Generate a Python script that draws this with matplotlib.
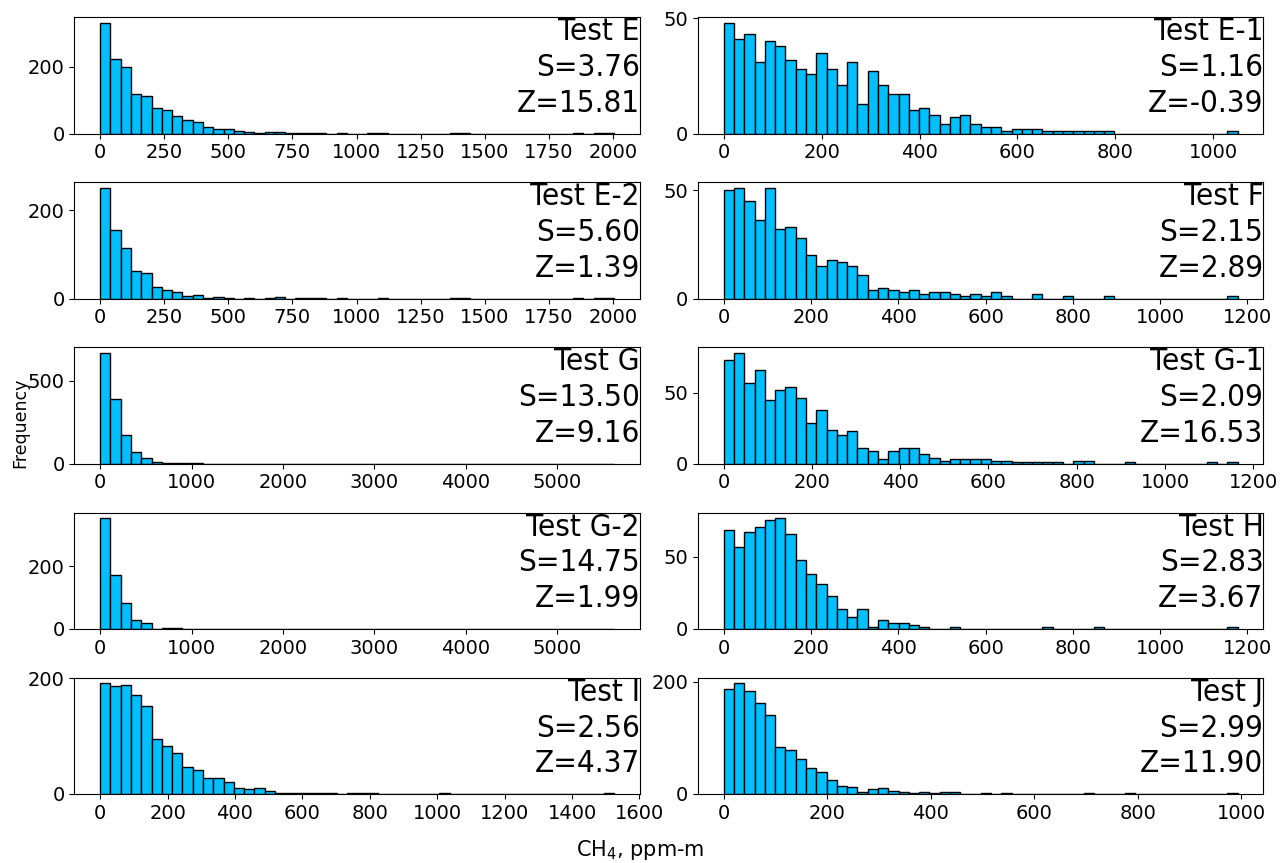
import os
import numpy as np
import matplotlib
matplotlib.use("Agg")
import matplotlib.pyplot as plt
from matplotlib import font_manager
from matplotlib.ticker import MultipleLocator

# panel order: left column top to bottom, right column top to bottom
names = ["Test E", "Test E-2", "Test G", "Test G-2", "Test I",
         "Test E-1", "Test F", "Test G-1", "Test H", "Test J"]
skew = [3.76, 5.60, 13.50, 14.75, 2.56, 1.16, 2.15, 2.09, 2.83, 2.99]
zval = [15.81, 1.39, 9.16, 1.99, 4.37, -0.39, 2.89, 16.53, 3.67, 11.90]

# upper end of the data range (50 equal bins from 0)
x_max = [2005, 2005, 5625, 5625, 1525, 1050, 1178, 1165, 1178, 993]
x_step = [250, 250, 1000, 1000, 200, 200, 200, 200, 200, 200]
y_ticks = [[0, 200], [0, 200], [0, 500], [0, 200], [0, 200],
           [0, 50], [0, 50], [0, 50], [0, 50], [0, 200]]

counts_E = [332, 222, 200, 118, 112, 77, 72, 54, 42, 35,
            20, 15, 15, 8, 5, 3, 5, 5, 2, 1,
            1, 1, 0, 3, 0, 0, 1, 1, 0, 0,
            0, 0, 0, 0, 1, 1, 0, 0, 0, 0,
            0, 0, 0, 0, 0, 0, 1, 0, 1, 1]
counts_E2 = [250, 155, 115, 62, 57, 26, 19, 15, 5, 9,
             1, 4, 1, 0, 1, 0, 1, 3, 0, 1,
             1, 1, 0, 2, 0, 0, 0, 1, 0, 0,
             0, 0, 0, 0, 1, 1, 0, 0, 0, 0,
             0, 0, 0, 0, 0, 0, 1, 0, 1, 1]
counts_G = [667, 390, 175, 68, 34, 12, 6, 4, 4, 2,
            0, 0, 0, 0, 0, 0, 0, 0, 0, 0,
            0, 0, 0, 0, 0, 0, 0, 0, 0, 0,
            0, 0, 0, 0, 0, 0, 0, 0, 0, 0,
            0, 0, 0, 0, 0, 0, 0, 0, 0, 1]
counts_G2 = [354, 172, 84, 29, 18, 1, 2, 2, 0, 1,
             0, 0, 0, 0, 1, 0, 0, 0, 0, 0,
             0, 0, 0, 0, 0, 0, 0, 0, 0, 0,
             0, 0, 0, 0, 0, 0, 0, 0, 0, 0,
             0, 0, 0, 0, 0, 0, 0, 0, 0, 1]
counts_I = [191, 187, 188, 170, 152, 95, 82, 71, 46, 41,
            28, 27, 20, 11, 9, 10, 5, 2, 2, 2,
            2, 1, 1, 0, 1, 1, 2, 0, 0, 0,
            0, 0, 0, 1, 0, 0, 0, 0, 0, 0,
            0, 0, 0, 0, 0, 0, 0, 0, 0, 1]
counts_E1 = [48, 41, 43, 31, 40, 38, 32, 28, 26, 35,
             28, 21, 31, 13, 27, 21, 17, 17, 10, 11,
             8, 4, 7, 8, 4, 3, 3, 1, 2, 2,
             2, 1, 1, 1, 1, 1, 1, 1, 0, 0,
             0, 0, 0, 0, 0, 0, 0, 0, 0, 1]
counts_F = [50, 51, 45, 36, 51, 32, 33, 28, 20, 15,
            18, 17, 15, 11, 4, 5, 4, 3, 4, 2,
            3, 3, 2, 1, 2, 1, 3, 1, 0, 0,
            2, 0, 0, 1, 0, 0, 0, 1, 0, 0,
            0, 0, 0, 0, 0, 0, 0, 0, 0, 1]
counts_G1 = [73, 78, 57, 66, 45, 52, 54, 46, 29, 38,
             24, 20, 23, 11, 9, 3, 9, 11, 11, 7,
             4, 2, 3, 3, 3, 3, 2, 2, 1, 1,
             1, 1, 1, 0, 2, 2, 0, 0, 0, 1,
             0, 0, 0, 0, 0, 0, 0, 1, 0, 1]
counts_H = [69, 57, 67, 71, 76, 77, 66, 48, 38, 31,
            23, 14, 8, 14, 1, 6, 4, 4, 3, 1,
            0, 0, 1, 0, 0, 0, 0, 0, 0, 0,
            0, 1, 0, 0, 0, 0, 1, 0, 0, 0,
            0, 0, 0, 0, 0, 0, 0, 0, 0, 1]
counts_J = [187, 197, 184, 161, 141, 84, 78, 63, 46, 39,
            25, 14, 12, 4, 9, 10, 6, 3, 2, 4,
            2, 3, 3, 0, 0, 2, 0, 1, 0, 0,
            0, 0, 0, 0, 0, 1, 0, 0, 0, 1,
            0, 0, 0, 0, 0, 0, 0, 0, 0, 1]

all_counts = [counts_E, counts_E2, counts_G, counts_G2, counts_I,
              counts_E1, counts_F, counts_G1, counts_H, counts_J]

# the stat labels look a little narrow and tall: use condensed DejaVu if present
cond = [f.fname for f in font_manager.fontManager.ttflist
        if os.path.basename(f.fname) == "DejaVuSansCondensed.ttf"]
if cond:
    label_font = font_manager.FontProperties(fname=cond[0], size=22.5)
else:
    label_font = font_manager.FontProperties(family="DejaVu Sans", size=20.5)

fig, axes = plt.subplots(5, 2, figsize=(12.84, 8.63), dpi=100)
fig.subplots_adjust(left=0.058, right=0.984, top=0.98, bottom=0.080,
                    wspace=0.103, hspace=0.42)

for i in range(10):
    ax = axes[i % 5, i // 5]
    edges = np.linspace(0, x_max[i], 51)
    ax.hist(edges[:-1], bins=edges, weights=all_counts[i],
            color="#00BFFF", edgecolor="black", linewidth=1)
    ax.xaxis.set_major_locator(MultipleLocator(x_step[i]))
    ax.set_yticks(y_ticks[i])
    ax.tick_params(labelsize=14)
    ax.text(1.0, 1.0, f"{names[i]}\nS={skew[i]:.2f}\nZ={zval[i]:.2f}",
            transform=ax.transAxes, ha="right", va="top",
            fontproperties=label_font, linespacing=1.3)

fig.text(0.016, 0.51, "Frequency", rotation=90, ha="center", va="center",
         fontsize=12.5)
fig.text(0.498, 0.015, "CH$_4$, ppm-m", ha="center", va="center", fontsize=15)

fig.savefig("out.png", dpi=100)
